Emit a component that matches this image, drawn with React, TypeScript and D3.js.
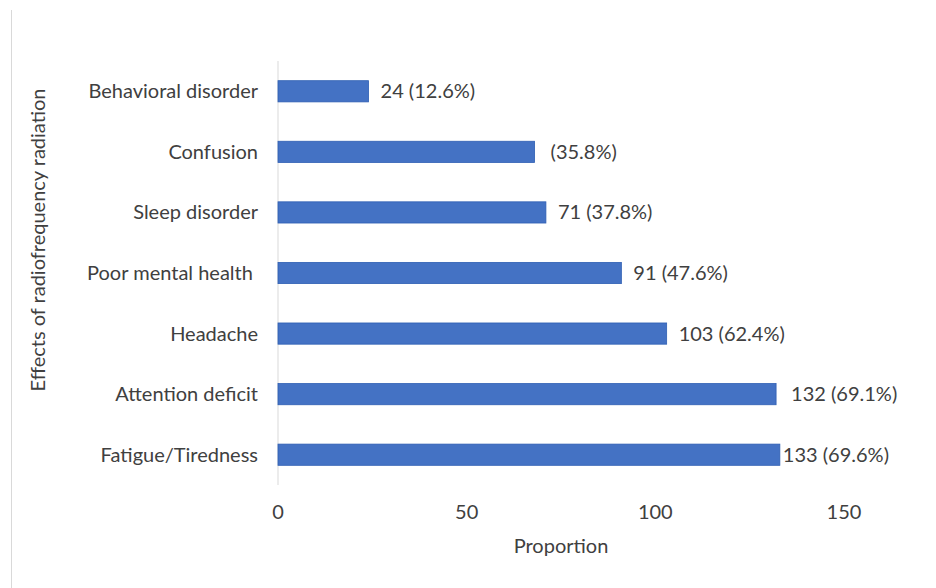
import React from "react";
import * as d3 from "d3";

const categories = [
  "Behavioral disorder",
  "Confusion",
  "Sleep disorder",
  "Poor mental health ",
  "Headache",
  "Attention deficit",
  "Fatigue/Tiredness",
];
const values = [24, 68, 71, 91, 103, 132, 133];
const valueLabels = [
  "24 (12.6%)",
  "(35.8%)",
  "71 (37.8%)",
  "91 (47.6%)",
  "103 (62.4%)",
  "132 (69.1%)",
  "133 (69.6%)",
];
const labelOffsets = [12, 16, 12, 12, 12, 15, 3];
const xTicks = [0, 50, 100, 150];
const xTitle = "Proportion";
const yTitle = "Effects of radiofrequency radiation";

const W = 936;
const H = 588;
const FONT = "Lato, 'Open Sans', sans-serif";
const TEXT = "#404040";
const FS = 20;

export default function App() {
  const x = d3.scaleLinear().domain([0, 150]).range([278, 844]);
  const y = d3.scaleBand().domain(categories).range([61, 485]).paddingInner(0.65).paddingOuter(0.325);
  return (
    <svg width={W} height={H} style={{ position: "absolute", left: 0, top: 0, background: "#fff" }}>
      <rect x={0} y={0} width={W} height={H} fill="#fff" />
      <line x1={11.5} y1={10} x2={11.5} y2={H} stroke="#d9d9d9" strokeWidth={1} />
      <line x1={x(0)} y1={61} x2={x(0)} y2={485} stroke="#d9d9d9" strokeWidth={1} />
      {categories.map((c, i) => (
        <g key={c}>
          <rect
            x={x(0)}
            y={y(c)!}
            width={x(values[i]) - x(0)}
            height={y.bandwidth()}
            fill="#4472c4"
            stroke="#2f5fb3"
            strokeWidth={0.8}
          />
          <text
            x={258}
            y={y(c)! + y.bandwidth() / 2}
            dy="0.35em"
            textAnchor="end"
            fontFamily={FONT}
            fontSize={FS}
            fill={TEXT}
            style={{ whiteSpace: "pre" }}
          >
            {c}
          </text>
          <text
            x={x(values[i]) + labelOffsets[i]}
            y={y(c)! + y.bandwidth() / 2}
            dy="0.35em"
            fontFamily={FONT}
            fontSize={FS}
            fill={TEXT}
          >
            {valueLabels[i]}
          </text>
        </g>
      ))}
      {xTicks.map((t) => (
        <text key={t} x={x(t)} y={512} dy="0.35em" textAnchor="middle" fontFamily={FONT} fontSize={FS} fill={TEXT}>
          {t}
        </text>
      ))}
      <text x={561} y={546} dy="0.35em" textAnchor="middle" fontFamily={FONT} fontSize={FS} fill={TEXT}>
        {xTitle}
      </text>
      <text
        transform={`translate(38,240) rotate(-90)`}
        dy="0.35em"
        textAnchor="middle"
        fontFamily={FONT}
        fontSize={FS}
        fill={TEXT}
      >
        {yTitle}
      </text>
    </svg>
  );
}
